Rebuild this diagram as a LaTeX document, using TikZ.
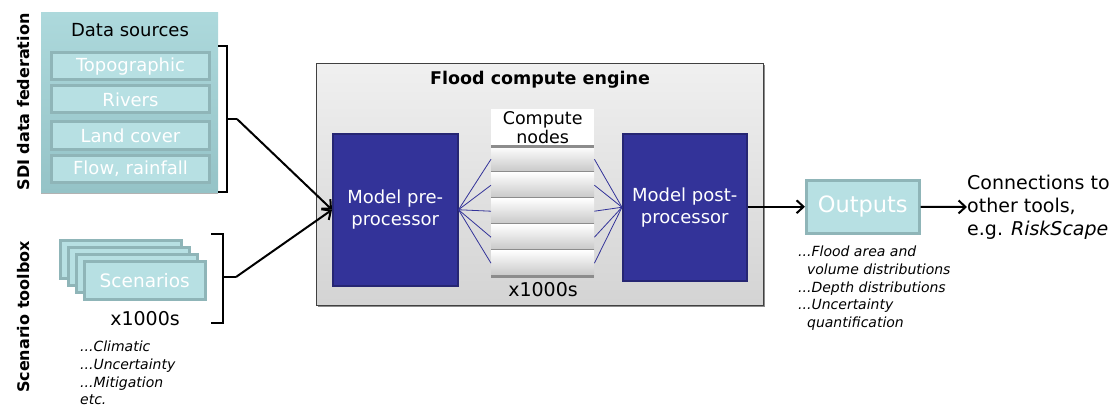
\documentclass[tikz,border=0pt]{standalone}
\usepackage{fontspec}
\setmainfont{DejaVu Sans}
\usetikzlibrary{arrows.meta}
\definecolor{teal1}{HTML}{B7E0E3}
\definecolor{tealedge}{HTML}{8FB5B8}
\definecolor{tealtop}{HTML}{ADD9DC}
\definecolor{tealbot}{HTML}{95C3C7}
\definecolor{navy}{HTML}{333399}
\definecolor{navyedge}{HTML}{262673}
\begin{document}
\begin{tikzpicture}[x=1pt,y=-1pt,
  fs/.style 2 args={font=\fontsize{#1}{#2}\selectfont},
  srcitem/.style={draw=tealedge, line width=3pt, fill=teal1, text=white,
    minimum width=158pt, minimum height=27pt, inner sep=0pt, fs={18}{21}},
  scen/.style={draw=tealedge, line width=2.5pt, fill=teal1, text=white,
    minimum width=121pt, minimum height=38pt, inner sep=0pt, fs={18.5}{22}},
  proc/.style={draw=navyedge, line width=1.5pt, fill=navy, text=white,
    align=center, inner sep=0pt, fs={18}{22}},
  slab/.style={top color=white, bottom color=black!22, minimum width=103pt,
    minimum height=26pt, inner sep=0pt},
  fan/.style={draw=navy, line width=0.8pt},
  flow/.style={line width=2pt, -{Straight Barb[length=7pt,width=13pt,line width=2pt]}},
  brace/.style={line width=2pt},
  note/.style={font=\fontsize{14}{17.6}\selectfont\itshape, align=left, anchor=north west, inner sep=0pt},
  vlabel/.style={rotate=90, font=\fontsize{16}{19}\selectfont\bfseries, inner sep=0pt}]
\useasboundingbox (0,0) rectangle (1118,409);

% side captions
\node[vlabel] (sdi) at (24,102) {SDI data federation};
\node[vlabel] (stb) at (24,317) {Scenario toolbox};

% data sources panel
\fill[black!30] (41,14) rectangle (218,194);
\node[anchor=north west, top color=tealtop, bottom color=tealbot, minimum width=177pt,
  minimum height=180pt, inner sep=0pt] (src) at (41,12) {};
\node[fs={18}{21}] (srctitle) at (130,30) {Data sources};
\node[srcitem] (topo) at (130.5,66.5) {Topographic};
\node[srcitem] (rivers) at (130.5,99.5) {Rivers};
\node[srcitem] (land) at (130.5,135.5) {Land cover};
\node[srcitem] (flowr) at (130.5,168.5) {Flow, rainfall};

% scenario stack
\node[scen, anchor=north west] (s1) at (59,239) {};
\node[scen, anchor=north west] (s2) at (67,246) {};
\node[scen, anchor=north west] (s3) at (75,253) {};
\node[scen, anchor=north west] (s4) at (83,260) {Scenarios};
\node[fs={19}{22}] (sx) at (145,319) {x1000s};
\node[note] (snote) at (80,341) {...Climatic\\...Uncertainty\\...Mitigation\\etc.};

% braces
\coordinate (b1) at (237,119);
\coordinate (b2) at (236,277);
\draw[brace] (218,46) -- (227,46) -- (227,192) -- (218,192);
\draw[brace] (227,119) -- (b1);
\draw[brace] (211,234) -- (223,234) -- (223,323) -- (211,323);
\draw[brace] (223,277) -- (b2);

% compute engine
\fill[black!45] (318,65) rectangle (765,307);
\node[anchor=north west, top color=black!6, bottom color=black!17, draw=black!75,
  line width=1pt, minimum width=447pt, minimum height=242pt, inner sep=0pt] (eng) at (316,63) {};
\node[font=\fontsize{17.5}{21}\selectfont\bfseries] (engtitle) at (540,80) {Flood compute engine};

\node[proc, anchor=north west, minimum width=125pt, minimum height=152pt] (pre) at (332,133)
  {Model pre-\\processor};
\node[proc, anchor=north west, minimum width=124pt, minimum height=147pt] (post) at (622,133)
  {Model post-\\processor};

\node[fill=white, anchor=north west, minimum width=103pt, minimum height=37pt, inner sep=0pt,
  align=center, fs={17.5}{19}] (cn) at (491,109) {Compute\\nodes};
\foreach \i in {1,...,5} {
  \node[slab, anchor=north west] (slab\i) at (491,{146+26*(\i-1)}) {};
  \draw[black!45, line width=3pt] (491,{146+26*\i}) -- (594,{146+26*\i});
}
\draw[black!45, line width=3pt] (491,146) -- (594,146);
\node[fs={19}{22}] (cx) at (543,290) {x1000s};

\foreach \i in {1,...,5} {
  \draw[fan] (pre.east) -- (slab\i.west);
  \draw[fan] (post.west) -- (slab\i.east);
}

% inputs into the engine
\draw[flow] (b1) -- (pre.west);
\draw[flow] (b2) -- (pre.west);

% outputs
\node[draw=tealedge, line width=2.5pt, fill=teal1, text=white, minimum width=113pt,
  minimum height=53pt, inner sep=0pt, fs={22.5}{26}, anchor=north west] (out) at (805,179) {Outputs};
\draw[flow] (post.east |- out.west) -- (out.west);
\node[fs={19}{23}, align=left, anchor=west, inner sep=0pt] (conn) at (967,207)
  {Connections to\\other tools,\\e.g. \textit{RiskScape}};
\draw[flow] (out.east) -- (conn.west);
\node[note] (onote) at (798,246) {...Flood area and\\\phantom{..}volume distributions\\...Depth distributions\\...Uncertainty\\\phantom{..}quantification};
\end{tikzpicture}
\end{document}
